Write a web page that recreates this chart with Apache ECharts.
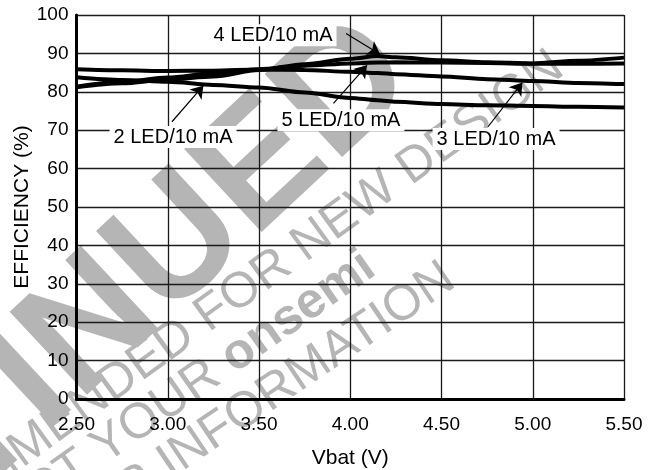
<!DOCTYPE html>
<html>
<head>
<meta charset="utf-8">
<script src="https://cdn.jsdelivr.net/npm/echarts@6/dist/echarts.min.js"></script>
<style>
  html, body { margin: 0; padding: 0; background: #fff; }
  #chart { width: 658px; height: 470px; }
</style>
</head>
<body>
<div id="chart"></div>
<script>
// Vbat (V) sample points
const vbat = [2.5, 2.75, 3.0, 3.25, 3.5, 3.75, 4.0, 4.15, 4.25, 4.5, 4.75, 5.0, 5.25, 5.5]
// efficiency (%) per curve
const led2 = [83.8, 83.1, 82.6, 81.8, 81.1, 79.8, 78.4, 77.8, 77.4, 76.8, 76.5, 76.3, 76.1, 75.9]
const led3 = [85.9, 85.6, 85.4, 85.5, 85.8, 85.7, 85.2, 84.9, 84.6, 84.0, 83.3, 82.8, 82.3, 82.0]
const led4 = [81.2, 82.2, 83.2, 84.0, 85.7, 87.2, 88.6, 89.3, 89.0, 88.2, 87.7, 87.4, 88.1, 88.9]
const led5 = [81.3, 82.6, 83.7, 84.8, 85.9, 86.8, 87.4, 87.6, 87.7, 87.6, 87.5, 87.3, 87.3, 87.4]
const seriesNames = ['2 LED/10 mA', '3 LED/10 mA', '4 LED/10 mA', '5 LED/10 mA']

const FONT = 'Liberation Sans, Arial, Helvetica, sans-serif'
const WM = '#b5b5b5'

function curve (name, vals, labelAt, arrowFrom, arrowTo) {
  return {
    name: name,
    type: 'line',
    data: vbat.map((x, i) => [x, vals[i]]),
    smooth: 0.3,
    smoothMonotone: 'x',
    symbol: 'none',
    silent: true,
    animation: false,
    lineStyle: { color: '#000', width: 4 },
    markPoint: {
      silent: true,
      animation: false,
      symbol: 'rect',
      symbolSize: 1,
      itemStyle: { color: 'rgba(0,0,0,0)' },
      label: {
        show: true,
        position: 'inside',
        formatter: name,
        color: '#000',
        fontFamily: FONT,
        fontSize: 20,
        backgroundColor: '#fff',
        padding: [1, 4]
      },
      data: [{ coord: labelAt }]
    },
    markLine: {
      silent: true,
      animation: false,
      symbol: ['none', 'arrow'],
      symbolSize: 12,
      label: { show: false },
      itemStyle: { color: '#000' },
      lineStyle: { color: '#000', width: 1.2, type: 'solid' },
      emphasis: { disabled: true },
      data: [[
        { coord: arrowFrom, symbol: 'none' },
        { coord: arrowTo, symbol: 'arrow', symbolSize: 12, itemStyle: { color: '#000' } }
      ]]
    }
  }
}

let chart = echarts.init(document.getElementById('chart'))
chart.setOption({
  backgroundColor: '#fff',
  animation: false,
  textStyle: { fontFamily: FONT },
  grid: { left: 76.5, right: 34, top: 15, bottom: 71, containLabel: false, outerBoundsMode: 'none' },
  graphic: {
    elements: [
      {
        type: 'text', x: 390, y: 50, rotation: 43 * Math.PI / 180, z: -10, silent: true,
        style: { text: 'DISCONTINUED', fill: WM, font: 'bold 165px ' + FONT, textAlign: 'right', textVerticalAlign: 'middle' }
      },
      {
        type: 'text', x: 558, y: 62, rotation: 36 * Math.PI / 180, z: -10, silent: true,
        style: { text: 'NOT RECOMMENDED FOR NEW DESIGN', fill: WM, font: '50px ' + FONT, textAlign: 'right', textVerticalAlign: 'middle' }
      },
      {
        type: 'text', x: 370, y: 262, rotation: 35 * Math.PI / 180, z: -10, silent: true,
        style: {
          text: '{r|CONTACT YOUR }{b|onsemi}',
          textAlign: 'right',
          textVerticalAlign: 'middle',
          rich: {
            r: { fill: WM, font: '50px ' + FONT },
            b: { fill: WM, font: 'bold 50px ' + FONT }
          }
        }
      },
      {
        type: 'text', x: 450, y: 274, rotation: 34 * Math.PI / 180, z: -10, silent: true,
        style: { text: 'REPRESENTATIVE FOR INFORMATION', fill: WM, font: '50px ' + FONT, textAlign: 'right', textVerticalAlign: 'middle' }
      }
    ]
  },
  xAxis: {
    type: 'value',
    min: 2.5,
    max: 5.5,
    interval: 0.5,
    name: 'Vbat (V)',
    nameLocation: 'middle',
    nameGap: 49,
    nameMoveOverlap: false,
    nameTextStyle: { color: '#000', fontSize: 21, fontFamily: FONT },
    axisLine: { show: true, onZero: false, lineStyle: { color: '#000', width: 3 } },
    axisTick: { show: false },
    axisLabel: {
      color: '#000',
      fontSize: 19,
      fontFamily: FONT,
      margin: 16,
      formatter: v => v.toFixed(2)
    },
    splitLine: { show: true, lineStyle: { color: '#1a1a1a', width: 1.3 } }
  },
  yAxis: {
    type: 'value',
    min: 0,
    max: 100,
    interval: 10,
    name: 'EFFICIENCY (%)',
    nameLocation: 'middle',
    nameRotate: 90,
    nameGap: 44,
    nameMoveOverlap: false,
    nameTextStyle: { color: '#000', fontSize: 21, fontFamily: FONT },
    axisLine: { show: true, lineStyle: { color: '#000', width: 3 } },
    axisTick: { show: false },
    axisLabel: { color: '#000', fontSize: 19, fontFamily: FONT, margin: 8 },
    splitLine: { show: true, lineStyle: { color: '#1a1a1a', width: 1.3 } }
  },
  series: [
    curve(seriesNames[0], led2, [3.029, 68.2], [3.023, 72.2], [3.195, 81.6]),
    curve(seriesNames[1], led3, [4.799, 67.7], [4.755, 70.9], [4.943, 82.4]),
    curve(seriesNames[2], led4, [3.577, 94.7], [3.977, 95.2], [4.163, 89.8]),
    curve(seriesNames[3], led5, [3.949, 72.6], [3.908, 77.0], [4.092, 86.9])
  ]
})
</script>
</body>
</html>
